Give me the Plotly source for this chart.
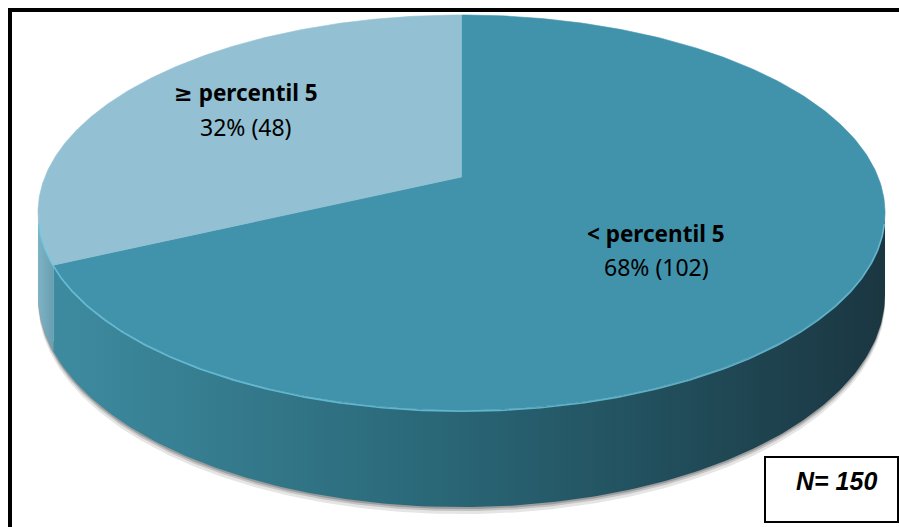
import numpy as np
import plotly.graph_objects as go

# ---- data ----
categories = ["< percentil 5", "≥ percentil 5"]
counts = [102, 48]
total_text = "N= 150"

# ---- geometry / style (not data) ----
W, H = 899, 527
CX, CY = 461.5, 177.0          # projected centre of the disc
A, B, K = 416.6, 191.2, 0.18   # perspective ellipse parameters
DEPTH = 79.5                   # thickness of the disc
top_colors = ["#4193AC", "#93C1D3"]
side_scales = [
    [[0, "#3E8BA0"], [0.45, "#2A6878"], [1, "#1A3641"]],
    [[0, "#7DB3C4"], [1, "#6A9FB1"]],
]
label_pos = [(656, 233, 267), (246, 92, 127)]


def proj(theta_deg, r=1.0):
    t = np.radians(theta_deg)
    u = r * np.sin(t)
    v = r * np.cos(t)
    w = 1 + K * v
    return CX + A * u / w, CY - B * v / w, w


total = sum(counts)
fracs = [c / total for c in counts]
starts = np.concatenate([[0], np.cumsum(fracs)[:-1]]) * 360
ends = np.cumsum(fracs) * 360

sil_r = np.degrees(np.arccos(-K))      # right silhouette angle
sil_l = 360 - sil_r                    # left silhouette angle

fig = go.Figure()

# soft shadow under the disc
th = np.linspace(sil_r, sil_l, 300)
for off, op in [(7, 0.10), (4, 0.15), (2, 0.2)]:
    x, y, w = proj(th)
    yb = y + DEPTH / w + off
    xs = np.concatenate([x, x[::-1]])
    ys = np.concatenate([yb, (y + DEPTH / w)[::-1] - 10])
    fig.add_trace(go.Scatter(x=xs, y=ys, fill="toself", mode="lines",
                             line=dict(width=0), fillcolor=f"rgba(0,0,0,{op})",
                             hoverinfo="skip", showlegend=False))

# side walls
for i, (s, e) in enumerate(zip(starts, ends)):
    a0, a1 = max(s, sil_r), min(e, sil_l)
    if a1 <= a0:
        continue
    th = np.linspace(a0, a1, 200)
    x, y, w = proj(th)
    yb = y + DEPTH / w
    xs = np.concatenate([x, x[::-1], [x[0]]])
    ys = np.concatenate([y, yb[::-1], [y[0]]])
    fig.add_trace(go.Scatter(
        x=xs, y=ys, fill="toself", mode="lines", line=dict(width=0),
        fillgradient=dict(type="horizontal", colorscale=side_scales[i]),
        hoverinfo="skip", showlegend=False, name=categories[i]))

# top faces
for i, (s, e) in enumerate(zip(starts, ends)):
    th = np.linspace(s, e, 300)
    x, y, w = proj(th)
    xs = np.concatenate([[CX], x, [CX]])
    ys = np.concatenate([[CY], y, [CY]])
    fig.add_trace(go.Scatter(
        x=xs, y=ys, fill="toself", mode="lines",
        line=dict(width=0.6, color=top_colors[i]),
        fillcolor=top_colors[i], name=categories[i],
        hoverinfo="name", showlegend=False))

# rim highlight on the front edge
th = np.linspace(sil_r + 3, sil_l - 3, 300)
x, y, w = proj(th)
fig.add_trace(go.Scatter(x=x, y=y + 1, mode="lines",
                         line=dict(color="rgba(110,200,225,0.8)", width=1.6),
                         hoverinfo="skip", showlegend=False))

# labels
for i, c in enumerate(counts):
    pct = round(100 * c / total)
    lx, ly1, ly2 = label_pos[i]
    name = categories[i]
    if name.startswith("≥"):
        name = '<span style="font-family:DejaVu Sans">≥</span>' + name[1:]
    fig.add_annotation(x=lx, y=ly1, text=f"<b>{name}</b>", showarrow=False,
                       font=dict(family="Noto Sans", size=22.5, color="black"))
    fig.add_annotation(x=lx, y=ly2, text=f"{pct}% ({c})", showarrow=False,
                       font=dict(family="Noto Sans", size=23, color="black"))

# N box
fig.add_shape(type="rect", x0=765, x1=898, y0=457, y1=522,
              line=dict(color="black", width=2), fillcolor="white", layer="above")
fig.add_annotation(x=836, y=481, text=f"<b><i>{total_text}</i></b>", showarrow=False,
                   font=dict(family="Liberation Sans", size=25, color="black"))

# outer frame
fig.add_shape(type="rect", x0=10, x1=920, y0=10, y1=545,
              line=dict(color="black", width=4), layer="above")

fig.update_layout(
    width=W, height=H, margin=dict(l=0, r=0, t=0, b=0),
    paper_bgcolor="white", plot_bgcolor="white",
    xaxis=dict(range=[0, W], visible=False, fixedrange=True),
    yaxis=dict(range=[H, 0], visible=False, fixedrange=True),
    showlegend=False,
)

fig.write_html(
    "out.html",
    config={"displayModeBar": False},
    post_script="document.body.style.margin='0';document.body.style.overflow='hidden';",
)
